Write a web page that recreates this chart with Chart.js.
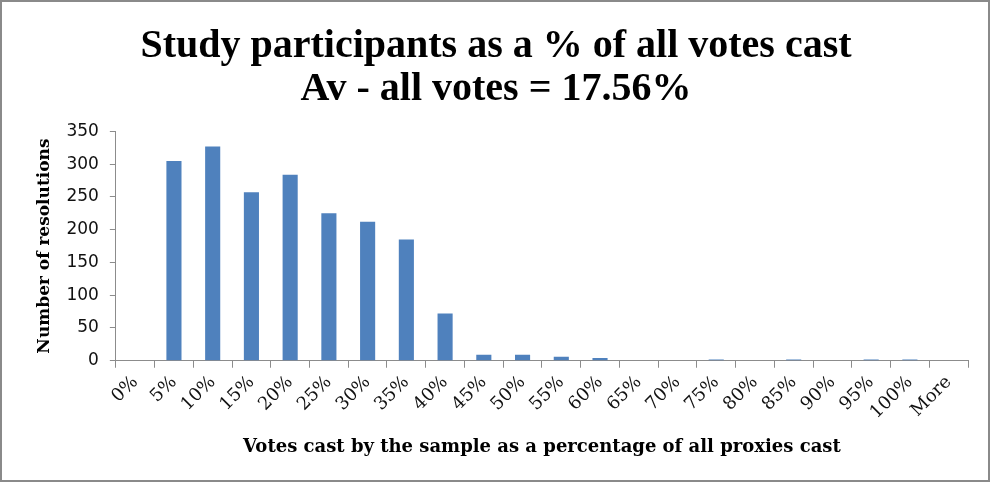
<!DOCTYPE html>
<html>
<head>
<meta charset="utf-8">
<script src="https://cdn.jsdelivr.net/npm/chart.js@4/dist/chart.umd.min.js"></script>
<style>
  html, body { margin: 0; padding: 0; background: #fff; }
  #wrap { width: 990px; height: 482px; box-sizing: border-box; border: 2px solid #8a8a8a; position: relative; }
  canvas { display: block; }
</style>
</head>
<body>
<div id="wrap"><canvas id="c"></canvas></div>
<script>
const categories = ['0%','5%','10%','15%','20%','25%','30%','35%','40%','45%','50%','55%','60%','65%','70%','75%','80%','85%','90%','95%','100%','More'];
const resolutions = [0,305,327,257,284,225,212,185,72,9,9,6,4,0,0,2,0,2,0,2,2,0];
const yTicks = [0,50,100,150,200,250,300,350];
const titleLines = ['Study participants as a % of all votes cast', 'Av - all votes = 17.56%'];
const xTitle = 'Votes cast by the sample as a percentage of all proxies cast';
const yTitle = 'Number of resolutions';

const serif = "'Liberation Serif', 'DejaVu Serif', serif";
const dserif = "'DejaVu Serif', 'Liberation Serif', serif";
const sans = "'DejaVu Sans', Verdana, sans-serif";

new Chart(document.getElementById('c'), {
  type: 'bar',
  data: {
    labels: categories,
    datasets: [{
      data: resolutions,
      backgroundColor: '#4F81BD',
      borderColor: '#4F81BD',
      borderWidth: 0,
      barPercentage: 0.39,
      categoryPercentage: 1.0
    }]
  },
  options: {
    responsive: true,
    maintainAspectRatio: false,
    animation: false,
    layout: { padding: { left: 22, right: 20, top: 0, bottom: 22 } },
    plugins: {
      legend: { display: false },
      tooltip: { enabled: false },
      title: {
        display: true,
        text: titleLines,
        color: '#000',
        font: { family: serif, size: 40, weight: 'bold', lineHeight: 1.08 },
        padding: { top: 23, bottom: 20 }
      }
    },
    scales: {
      x: {
        offset: true,
        grid: { display: true, drawOnChartArea: false, drawTicks: true, tickLength: 7, color: '#8c8c8c', offset: true },
        border: { display: true, color: '#8c8c8c', width: 1 },
        ticks: {
          color: '#111',
          font: { family: dserif, size: 18 },
          maxRotation: 45, minRotation: 45,
          autoSkip: false,
          padding: 4
        },
        title: {
          display: true,
          text: xTitle,
          color: '#000',
          font: { family: dserif, size: 18, weight: 'bold' },
          padding: { top: 9, bottom: 0 }
        }
      },
      y: {
        min: 0, max: 350,
        afterBuildTicks: (axis) => { axis.ticks = yTicks.map(v => ({ value: v })); },
        grid: { display: true, drawOnChartArea: false, drawTicks: true, tickLength: 6, color: '#8c8c8c' },
        border: { display: true, color: '#8c8c8c', width: 1 },
        ticks: {
          color: '#111',
          font: { family: sans, size: 17 },
          padding: 11
        },
        title: {
          display: true,
          text: yTitle,
          color: '#000',
          font: { family: dserif, size: 17, weight: 'bold' },
          padding: { top: 10, bottom: 1 }
        }
      }
    }
  }
});
</script>
</body>
</html>
